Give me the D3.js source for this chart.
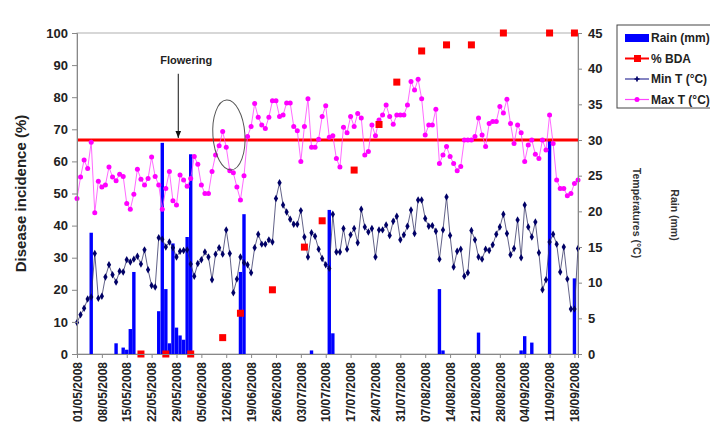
<!DOCTYPE html>
<html>
<head>
<meta charset="utf-8">
<script src="https://cdn.jsdelivr.net/npm/d3@7"></script>
<style>
body { margin: 0; background: #fff; }
text { font-family: "Liberation Sans", Arial, sans-serif; }
</style>
</head>
<body>
<svg id="chart" width="710" height="424"></svg>
<script>
// ---------------- data (daily series start on 01/05/2008) ----------------
var startDate = "01/05/2008";

var maxT = [21.8, 24.8, 27.2, 26.0, 29.7, 19.8, 24.2, 23.4, 23.7, 26.2, 24.8, 24.3, 25.2, 24.9, 21.1, 20.3, 22.4, 25.9, 24.5, 23.7,
  24.6, 27.6, 24.9, 23.7, 20.3, 23.2, 25.6, 21.5, 20.9, 25.1, 24.4, 23.5, 24.6, 27.7, 26.6, 23.7,
  22.5, 22.5, 25.6, 27.9, 29.2, 31.2, 29.0, 25.7, 25.4, 23.4, 21.6, 25.0, 30.5, 31.9, 35.1, 33.2, 32.1, 31.6, 33.2, 35.5,
  35.5, 33.3, 33.5, 35.2, 35.2, 31.9, 31.3, 27.0, 31.9, 35.8, 29.0, 29.0, 30.1,
  33.3, 34.8, 30.4, 30.6, 27.4, 26.2, 31.8, 31.0,
  33.3, 31.9, 33.7, 33.1, 27.9, 28.4, 32.1, 30.6, 32.8, 33.5, 34.9, 33.3, 32.2, 33.5, 33.5, 33.5, 34.9, 38.2, 37.0, 38.5,
  35.8, 30.7, 32.1, 32.1, 34.3,
  26.7, 27.9, 29.1, 27.7, 26.7, 25.7, 26.3, 30.0, 30.0, 30.0, 30.5, 33.1, 30.7, 29.1, 32.3, 32.6, 32.6, 34.7, 33.8, 35.7,
  32.3, 29.5, 32.1, 31.0, 27.0, 29.3, 30.0, 28.0, 27.4, 30.0, 28.6, 33.5, 29.5, 24.4, 23.2, 23.2, 22.2, 22.5, 23.9, 24.4];

var minT = [4.4, 5.5, 6.4, 7.7, 8.0, 14.1, 7.8, 8.1, 10.8, 12.5, 11.1, 10.1, 11.6, 11.5, 13.2, 12.9, 13.3, 13.7, 12.6, 14.6,
  11.8, 9.6, 9.4, 16.3, 16.1, 15.0, 15.7, 14.9, 13.6, 14.4, 14.5, 14.6, 12.6, 10.9, 12.7, 13.2,
  14.3, 13.6, 10.4, 14.0, 14.9, 14.0, 17.4, 14.1, 8.6, 10.5, 13.6, 12.8, 12.5, 11.4, 14.9, 16.8, 15.4, 15.4, 16.0, 15.7,
  21.8, 24.0, 20.9, 19.9, 18.9, 18.2, 18.2, 20.1, 16.4, 13.6, 17.0, 16.5,
  14.7, 13.4, 12.5, 12.0, 19.6, 14.3, 14.3, 17.6, 14.7, 16.7, 17.6, 15.6, 20.3, 17.8, 17.1, 17.6, 13.6, 17.4, 17.4, 18.1,
  16.6, 18.6, 19.3, 16.0, 16.7, 17.9, 20.2, 16.9, 21.6, 21.6, 19.0, 17.9, 18.0, 17.2, 13.3, 17.4,
  22.0, 16.6, 12.2, 14.4, 14.7, 10.9, 11.4, 17.3, 16.0, 13.6, 13.3, 14.7, 14.5, 15.3, 16.8, 17.8, 19.6, 16.9, 13.9, 14.8,
  18.8, 13.5, 20.9, 17.8, 16.4, 18.5, 14.2, 9.0, 10.4, 15.7, 16.8, 15.4, 11.5, 15.0, 10.5, 6.3, 6.3, 14.8];

var rainDates = ["05/05/2008", "12/05/2008", "14/05/2008", "15/05/2008", "16/05/2008", "17/05/2008", "24/05/2008",
  "25/05/2008", "26/05/2008", "27/05/2008", "28/05/2008", "29/05/2008", "30/05/2008", "31/05/2008", "01/06/2008",
  "02/06/2008", "16/06/2008", "17/06/2008", "06/07/2008", "11/07/2008", "12/07/2008", "11/08/2008", "12/08/2008",
  "22/08/2008", "03/09/2008", "04/09/2008", "06/09/2008", "11/09/2008", "18/09/2008"];
var rainMm = [17.0, 1.5, 0.9, 0.6, 3.5, 11.5, 6.0, 29.6, 9.1, 1.5, 15.5, 3.7, 2.6, 2.0, 16.4, 28.0, 11.5, 19.6, 0.5,
  20.2, 2.9, 9.1, 0.5, 3.0, 0.5, 2.5, 1.6, 30.0, 10.6];

var bdaDates = ["19/05/2008", "26/05/2008", "02/06/2008", "11/06/2008", "16/06/2008", "25/06/2008", "04/07/2008",
  "09/07/2008", "18/07/2008", "25/07/2008", "30/07/2008", "06/08/2008", "13/08/2008", "20/08/2008", "29/08/2008",
  "11/09/2008", "18/09/2008"];
var bdaPct = [0, 0, 0, 5.1, 12.7, 20.0, 33.3, 41.5, 57.3, 71.5, 84.7, 94.4, 96.3, 96.3, 100, 100, 100];

var tickLabels = ["01/05/2008", "08/05/2008", "15/05/2008", "22/05/2008", "29/05/2008", "05/06/2008", "12/06/2008",
  "19/06/2008", "26/06/2008", "03/07/2008", "10/07/2008", "17/07/2008", "24/07/2008", "31/07/2008", "07/08/2008",
  "14/08/2008", "21/08/2008", "28/08/2008", "04/09/2008", "11/09/2008", "18/09/2008"];

var threshold = 30;              // red line, °C
var floweringDate = "29/05/2008";
var circled = {date: "12/06/2008", temp: 30.7};

// ---------------- setup ----------------
var svg = d3.select("#chart"),
    margin = {top: 33, right: 132, bottom: 70, left: 77},
    width = +svg.attr("width") - margin.left - margin.right,
    height = +svg.attr("height") - margin.top - margin.bottom,
    g = svg.append("g").attr("transform", "translate(" + margin.left + "," + margin.top + ")");

svg.insert("rect", ":first-child").attr("width", 710).attr("height", 424).attr("fill", "#fff");

var parse = d3.timeParse("%d/%m/%Y");
var start = parse(startDate);
var days = maxT.map(function(v, i) { return d3.timeDay.offset(start, i); });

var x = d3.scaleTime()
    .domain([start, days[days.length - 1]])
    .range([0, width]);
var yL = d3.scaleLinear().domain([0, 100]).range([height, 0]);
var yR = d3.scaleLinear().domain([0, 45]).range([height, 0]);

// plot frame
g.append("rect")
    .attr("width", width).attr("height", height)
    .attr("fill", "none").attr("stroke", "#b0b0b0");

// rain bars
var bw = 3.4;
g.append("g").selectAll("rect")
    .data(rainDates.map(function(d, i) { return {date: parse(d), v: rainMm[i]}; }))
    .enter().append("rect")
      .attr("x", function(d) { return x(d.date) - bw / 2; })
      .attr("y", function(d) { return yR(d.v); })
      .attr("width", bw)
      .attr("height", function(d) { return height - yR(d.v); })
      .attr("fill", "#0000ff");

// threshold line
g.append("line")
    .attr("x1", 0).attr("x2", width)
    .attr("y1", yR(threshold)).attr("y2", yR(threshold))
    .attr("stroke", "#ff0000").attr("stroke-width", 3);

// temperature lines
var line = d3.line()
    .x(function(d, i) { return x(days[i]); })
    .y(function(d) { return yR(d); });

g.append("path").datum(minT)
    .attr("d", line).attr("fill", "none")
    .attr("stroke", "#3a3a6a").attr("stroke-width", 0.8);
g.append("path").datum(maxT)
    .attr("d", line).attr("fill", "none")
    .attr("stroke", "#ff44ff").attr("stroke-width", 0.8);

g.append("g").selectAll("path")
    .data(minT)
    .enter().append("path")
      .attr("transform", function(d, i) { return "translate(" + x(days[i]) + "," + yR(d) + ")"; })
      .attr("d", d3.symbol(d3.symbolDiamond, 16))
      .attr("fill", "#000066");

g.append("g").selectAll("circle")
    .data(maxT)
    .enter().append("circle")
      .attr("cx", function(d, i) { return x(days[i]); })
      .attr("cy", function(d) { return yR(d); })
      .attr("r", 2.5)
      .attr("fill", "#ff00ff");

// % BDA squares
g.append("g").selectAll("rect")
    .data(bdaDates.map(function(d, i) { return {date: parse(d), v: bdaPct[i]}; }))
    .enter().append("rect")
      .attr("x", function(d) { return x(d.date) - 3.5; })
      .attr("y", function(d) { return yL(d.v) - 3.5; })
      .attr("width", 7).attr("height", 7)
      .attr("fill", "#ff0000");

// axes
function styleAxis(sel) {
  sel.selectAll(".domain").attr("stroke", "#888");
  sel.selectAll(".tick line").attr("stroke", "#888");
  sel.selectAll("text").attr("fill", "#222").attr("font-weight", "bold")
     .style("font-family", "'Liberation Sans', Arial, sans-serif");
}

g.append("g")
    .call(d3.axisLeft(yL).tickValues(d3.range(0, 101, 10)).tickSize(5).tickPadding(4))
    .call(styleAxis)
    .selectAll("text").attr("font-size", 13);

g.append("g")
    .attr("transform", "translate(" + width + ",0)")
    .call(d3.axisRight(yR).tickValues(d3.range(0, 46, 5)).tickSize(4).tickPadding(6))
    .call(styleAxis)
    .selectAll("text").attr("font-size", 13);

g.append("g")
    .attr("transform", "translate(0," + height + ")")
    .call(d3.axisBottom(x).tickValues(tickLabels.map(parse)).tickFormat(d3.timeFormat("%d/%m/%Y")).tickSize(4))
    .call(styleAxis)
    .selectAll("text")
      .attr("font-size", 12)
      .attr("text-anchor", "end")
      .attr("transform", "translate(0,8) rotate(-90)")
      .attr("x", 0).attr("y", 0).attr("dy", "0.35em");

// axis titles
svg.append("text")
    .attr("transform", "translate(21," + (margin.top + height / 2) + ") rotate(-90)")
    .attr("text-anchor", "middle").attr("dy", "0.35em")
    .attr("font-size", 15).attr("font-weight", "bold").attr("fill", "#222")
    .text("Disease incidence (%)");

svg.append("text")
    .attr("transform", "translate(637,213) rotate(90)")
    .attr("text-anchor", "middle").attr("dy", "0.35em")
    .attr("font-size", 10.5).attr("font-weight", "bold").attr("fill", "#333")
    .text("Températures (°C)");

svg.append("text")
    .attr("transform", "translate(675,215) rotate(90)")
    .attr("text-anchor", "middle").attr("dy", "0.35em")
    .attr("font-size", 10.5).attr("font-weight", "bold").attr("fill", "#333")
    .text("Rain (mm)");

// annotations
svg.append("defs").append("marker")
    .attr("id", "arrow").attr("viewBox", "0 0 10 10")
    .attr("refX", 10).attr("refY", 5)
    .attr("markerWidth", 7).attr("markerHeight", 7)
    .attr("orient", "auto")
  .append("path").attr("d", "M0,1 L10,5 L0,9 Z").attr("fill", "#111");

var fx = x(d3.timeHour.offset(parse(floweringDate), 12));
g.append("line")
    .attr("x1", fx).attr("x2", fx)
    .attr("y1", yL(87.3)).attr("y2", yR(threshold) - 2)
    .attr("stroke", "#111").attr("stroke-width", 1)
    .attr("marker-end", "url(#arrow)");
g.append("text")
    .attr("x", fx + 8).attr("y", yL(90.3))
    .attr("text-anchor", "middle")
    .attr("font-size", 11).attr("font-weight", "bold").attr("fill", "#222")
    .text("Flowering");

var cx = x(d3.timeHour.offset(parse(circled.date), 18)), cy = yR(circled.temp);
g.append("ellipse")
    .attr("transform", "translate(" + cx + "," + cy + ") rotate(-4)")
    .attr("rx", 16).attr("ry", 35)
    .attr("fill", "none").attr("stroke", "#555").attr("stroke-width", 1);

// legend
var legend = svg.append("g").attr("transform", "translate(617,25)");
legend.append("rect")
    .attr("width", 100).attr("height", 83)
    .attr("fill", "#fff").attr("stroke", "#444");

var items = ["Rain (mm)", "% BDA", "Min T (°C)", "Max T (°C)"];
var li = legend.selectAll(".item")
    .data(items)
    .enter().append("g")
      .attr("transform", function(d, i) { return "translate(0," + (13 + i * 20.5) + ")"; });

li.append("text")
    .attr("x", 34).attr("dy", "0.35em")
    .attr("font-size", 12).attr("font-weight", "bold").attr("fill", "#222")
    .text(function(d) { return d; });

li.filter(function(d, i) { return i === 0; }).append("rect")
    .attr("x", 8).attr("y", -4).attr("width", 24).attr("height", 8).attr("fill", "#0000ff");

var lineColors = [null, "#ff0000", "#333399", "#ff44ff"];
li.filter(function(d, i) { return i > 0; }).append("line")
    .attr("x1", 8).attr("x2", 32)
    .attr("stroke", function(d, i) { return lineColors[i + 1]; })
    .attr("stroke-width", function(d, i) { return i === 0 ? 2 : 1.2; });

li.filter(function(d, i) { return i === 1; }).append("rect")
    .attr("x", 17).attr("y", -3.5).attr("width", 7).attr("height", 7).attr("fill", "#ff0000");
li.filter(function(d, i) { return i === 2; }).append("path")
    .attr("transform", "translate(20,0)")
    .attr("d", d3.symbol(d3.symbolCross, 14)).attr("fill", "#000066");
li.filter(function(d, i) { return i === 3; }).append("circle")
    .attr("cx", 20).attr("r", 2.5).attr("fill", "#ff00ff");
</script>
</body>
</html>
